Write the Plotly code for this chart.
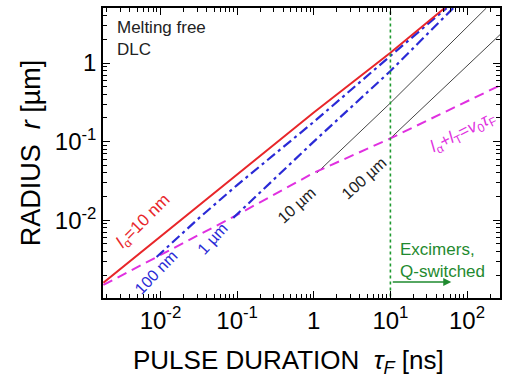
import plotly.graph_objects as go

# ---- data (tau in ns, r in um) ----
red_tau = [0.0018, 0.01, 0.1, 1, 10, 51]
red_r = [0.0016, 0.0062, 0.039, 0.235, 1.35, 5.0]

blue100_tau = [0.0089, 0.032, 0.1, 1, 10, 54]
blue100_r = [0.0034, 0.0107, 0.028, 0.178, 1.23, 5.0]

blue1_tau = [0.089, 1, 10, 66]
blue1_r = [0.0107, 0.1, 0.79, 5.0]

mag_tau = [0.0018, 0.01, 0.1, 1, 10, 270]
mag_r = [0.0015, 0.0036, 0.0117, 0.040, 0.11, 0.52]

gray10_tau = [1.1, 10, 178]
gray10_r = [0.040, 0.31, 5.0]

gray100_tau = [10, 270]
gray100_r = [0.11, 2.3]

excimer_tau = [10, 10]
excimer_r = [0.0009, 6]

x_tickvals = [0.01, 0.1, 1, 10, 100]
x_ticktext = ["10<sup>-2</sup>", "10<sup>-1</sup>", "1", "10<sup>1</sup>", "10<sup>2</sup>"]
y_tickvals = [0.01, 0.1, 1]
y_ticktext = ["10<sup>-2</sup>", "10<sup>-1</sup>", "1"]

FONT = "Liberation Sans, Arial, sans-serif"
W, H = 507, 389
ML, MR, MT, MB = 103, 5, 8, 91
PW, PH = W - ML - MR, H - MT - MB
XR = [-2.75, 2.43]
YR = [-2.99, 0.70]


def px(x):
    return (x - ML) / PW


def py(y):
    return (H - MB - y) / PH


fig = go.Figure()
fig.add_trace(go.Scatter(x=gray10_tau, y=gray10_r, mode="lines",
                         line=dict(color="#444444", width=1)))
fig.add_trace(go.Scatter(x=gray100_tau, y=gray100_r, mode="lines",
                         line=dict(color="#444444", width=1)))
fig.add_trace(go.Scatter(x=mag_tau, y=mag_r, mode="lines",
                         line=dict(color="#e030e0", width=2, dash="10px,6px")))
fig.add_trace(go.Scatter(x=blue1_tau, y=blue1_r, mode="lines",
                         line=dict(color="#2a2ad6", width=2.2, dash="10px,4px,3px,4px")))
fig.add_trace(go.Scatter(x=blue100_tau, y=blue100_r, mode="lines",
                         line=dict(color="#2a2ad6", width=2.2, dash="10px,4px,3px,4px")))
fig.add_trace(go.Scatter(x=red_tau, y=red_r, mode="lines",
                         line=dict(color="#e8262a", width=2)))
fig.add_trace(go.Scatter(x=excimer_tau, y=excimer_r, mode="lines",
                         line=dict(color="#1f9a2f", width=1.6, dash="dot")))
# invisible trace to anchor the mirrored (top / right) tick axes
fig.add_trace(go.Scatter(x=[1], y=[0.1], xaxis="x2", yaxis="y2", mode="markers",
                         marker=dict(opacity=0), hoverinfo="skip"))

minor_x = [m * 10 ** e for e in range(-3, 3) for m in range(2, 10)]
minor_y = [m * 10 ** e for e in range(-3, 1) for m in range(2, 10)]

axis_common = dict(
    type="log", showline=True, linecolor="black", linewidth=1.5,
    ticks="inside", ticklen=7, tickwidth=1.2, tickcolor="black",
    showgrid=False, zeroline=False,
    tickfont=dict(family=FONT, size=24, color="black"),
)
minor_common = dict(ticks="inside", ticklen=4, tickcolor="black", tickwidth=1)

fig.update_layout(
    xaxis=dict(
        **axis_common, mirror=True, range=XR, tickmode="array",
        tickvals=x_tickvals, ticktext=x_ticktext,
        minor=dict(**minor_common, tickvals=minor_x),
    ),
    yaxis=dict(
        **axis_common, mirror=True, range=YR, tickmode="array",
        tickvals=y_tickvals, ticktext=y_ticktext,
        minor=dict(**minor_common, tickvals=minor_y),
        title=dict(text="RADIUS  <i>r</i> [µm]",
                   font=dict(family=FONT, size=27, color="black"), standoff=6),
    ),
    xaxis2=dict(
        **axis_common, overlaying="x", side="top", anchor="y2", range=XR,
        tickmode="array", tickvals=x_tickvals, showticklabels=False,
        minor=dict(**minor_common, tickvals=minor_x),
    ),
    yaxis2=dict(
        **axis_common, overlaying="y", side="right", anchor="x2", range=YR,
        tickmode="array", tickvals=y_tickvals, showticklabels=False,
        minor=dict(**minor_common, tickvals=minor_y),
    ),
)

ann = []
# x-axis title (placed as annotation to match the reference's horizontal position)
ann.append(dict(x=px(289), y=py(361), xref="paper", yref="paper", xanchor="center", yanchor="middle",
                showarrow=False, text="PULSE DURATION  <i>τ<sub>F</sub></i> [ns]",
                font=dict(family=FONT, size=26, color="black")))
ann.append(dict(x=px(115), y=py(16), xref="paper", yref="paper", xanchor="left", yanchor="top",
                align="left", showarrow=False, text="Melting free<br>DLC",
                font=dict(family=FONT, size=17, color="#222222")))
labels = [
    ("<i>l</i><sub>α</sub>=10 nm", 144, 222, -45, "#e8262a", 17),
    ("100 nm", 156, 272, -46, "#2a2ad6", 16),
    ("1 µm", 213, 238, -48, "#2a2ad6", 16),
    ("10 µm", 297, 205, -42, "#222222", 16),
    ("100 µm", 365, 178, -42, "#222222", 16),
    ("<i>l</i><sub>α</sub>+<i>l</i><sub>T</sub>=<i>v</i><sub>0</sub><i>τ</i><sub>F</sub>",
     465, 133, -27, "#e030e0", 17),
]
for t, x, y, a, c, s in labels:
    ann.append(dict(x=px(x), y=py(y), xref="paper", yref="paper", xanchor="center", yanchor="middle",
                    textangle=a, showarrow=False, text=t, font=dict(family=FONT, size=s, color=c)))
ann.append(dict(x=px(399), y=py(238), xref="paper", yref="paper", xanchor="left", yanchor="top",
                align="left", showarrow=False, text="Excimers,<br>Q-switched",
                font=dict(family=FONT, size=17, color="#1f8a2f")))
ann.append(dict(x=px(453), y=py(282), xref="paper", yref="paper", ax=-60, ay=0,
                showarrow=True, arrowhead=2, arrowsize=1, arrowwidth=1.6, arrowcolor="#1f8a2f", text=""))

fig.update_layout(
    width=W, height=H, margin=dict(l=ML, r=MR, t=MT, b=MB),
    paper_bgcolor="white", plot_bgcolor="white", showlegend=False,
    annotations=ann,
)

fig.write_html("out.html")
